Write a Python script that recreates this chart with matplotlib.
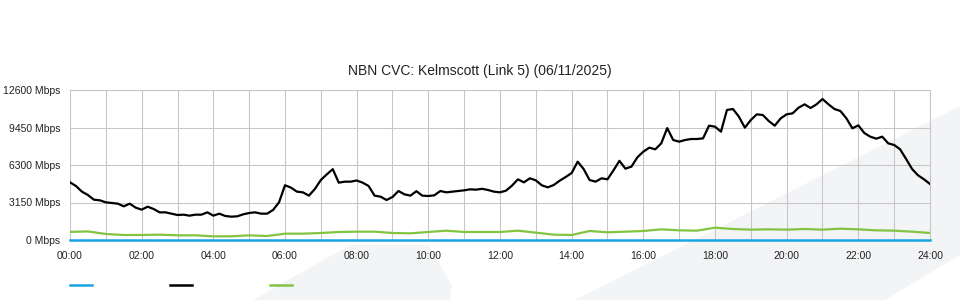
import numpy as np
import matplotlib
matplotlib.use("Agg")
import matplotlib.pyplot as plt
from matplotlib.patches import Polygon
from matplotlib.lines import Line2D

plt.rcParams['font.family'] = ['Liberation Sans', 'DejaVu Sans']

# black series, one value every 10 minutes (Mbps)
black_vals = [
    4844, 4536, 4060, 3780, 3388, 3332, 3164, 3108, 3052, 2828, 3052, 2716, 2548, 2800, 2604, 2324, 2324, 2212,
    2100, 2128, 2044, 2128, 2128, 2324, 2044, 2212, 2016, 1960, 1988, 2156, 2268, 2324, 2212, 2212, 2520, 3164,
    4600, 4400, 4060, 4004, 3724, 4284, 5040, 5516, 5950, 4816, 4900, 4900, 5000, 4816, 4536, 3724, 3640, 3360,
    3612, 4116, 3836, 3724, 4100, 3724, 3696, 3752, 4116, 4004, 4060, 4116, 4172, 4256, 4228, 4300, 4200, 4060,
    4004, 4144, 4564, 5096, 4844, 5180, 5012, 4592, 4424, 4620, 4984, 5292, 5628, 6580, 5964, 5040, 4900, 5180,
    5100, 5852, 6650, 5992, 6160, 6944, 7420, 7756, 7616, 8120, 9400, 8400, 8260, 8400, 8484, 8484, 8540, 9604,
    9520, 9100, 10920, 11004, 10360, 9436, 10080, 10556, 10500, 9996, 9604, 10220, 10556, 10640, 11116, 11396, 11088, 11396,
    11844, 11396, 11004, 10836, 10220, 9380, 9632, 8988, 8680, 8512, 8680, 8120, 7980, 7616, 6804, 5964, 5432, 5096, 4704,
]
# green series, one value every 30 minutes (Mbps)
green_vals = [
    680, 720, 504, 420, 420, 448, 392, 392, 308, 308,
    392, 336, 532, 532, 588, 672, 700, 700, 588, 560,
    672, 784, 672, 672, 672, 784, 616, 448, 420, 756,
    644, 700, 756, 896, 812, 784, 1036, 924, 868, 896,
    868, 924, 868, 952, 896, 812, 784, 700, 588,
]
# blue series sits flat on zero
blue_vals = [0] * 49

black_t = np.arange(len(black_vals)) * 10 / 60
green_t = np.arange(len(green_vals)) * 30 / 60

y_ticks = [0, 3150, 6300, 9450, 12600]
x_ticks = list(range(0, 25, 2))
x_labels = [f"{h:02d}:00" for h in x_ticks]

BLUE = '#1aa3e3'
BLACK = '#000000'
GREEN = '#82c341'
GRID = '#c6c6c6'

W, H = 960, 300
fig = plt.figure(figsize=(W / 100, H / 100), dpi=100)
fig.patch.set_facecolor('white')


def px(pts):  # pixel coords (from top-left) -> figure fraction
    return [(x / W, 1 - y / H) for x, y in pts]


# faint watermark shapes in the background
shade = '#f3f4f6'
fig.patches.append(Polygon(px([(575, 300), (960, 106), (960, 255), (885, 300)]),
                           closed=True, transform=fig.transFigure, facecolor=shade,
                           edgecolor='none', zorder=-5))
fig.patches.append(Polygon(px([(253, 300), (350, 245), (428, 245), (452, 285), (450, 300)]),
                           closed=True, transform=fig.transFigure, facecolor=shade,
                           edgecolor='none', zorder=-5))

ax = fig.add_axes([70 / W, 60 / H, 860 / W, 150 / H])
ax.set_facecolor('none')

ax.plot(black_t, black_vals, color=BLACK, lw=1.6, zorder=3)
ax.plot(green_t, green_vals, color=GREEN, lw=1.6, zorder=3)
ax.plot(green_t, blue_vals, color=BLUE, lw=1.8, zorder=4, clip_on=False)

ax.set_xlim(0, 24)
ax.set_ylim(0, 12600)
ax.set_xticks(x_ticks)
ax.set_xticklabels(x_labels)
ax.set_xticks(range(0, 25), minor=True)
ax.set_yticks(y_ticks)
ax.set_yticklabels([f"{v} Mbps" for v in y_ticks])

ax.grid(True, which='both', axis='x', color=GRID, lw=0.75)
ax.grid(True, which='major', axis='y', color=GRID, lw=0.75)
ax.set_axisbelow(True)
ax.tick_params(axis='both', which='both', length=0, labelsize=7.5, colors='#222222')
ax.tick_params(axis='x', pad=8)
ax.tick_params(axis='y', pad=7)
for s in ax.spines.values():
    s.set_color(GRID)
    s.set_linewidth(0.75)
ax.spines['bottom'].set_visible(False)

fig.text(0.5, 1 - 71 / H, "NBN CVC: Kelmscott (Link 5) (06/11/2025)",
         ha='center', va='center', fontsize=10, color='#222222')

# legend swatches without labels
for x0, c in [(70, BLUE), (170, BLACK), (270, GREEN)]:
    fig.add_artist(Line2D([x0 / W, (x0 + 22) / W], [1 - 285 / H] * 2,
                          transform=fig.transFigure, color=c, lw=1.8))

fig.savefig('out.png', dpi=100)
